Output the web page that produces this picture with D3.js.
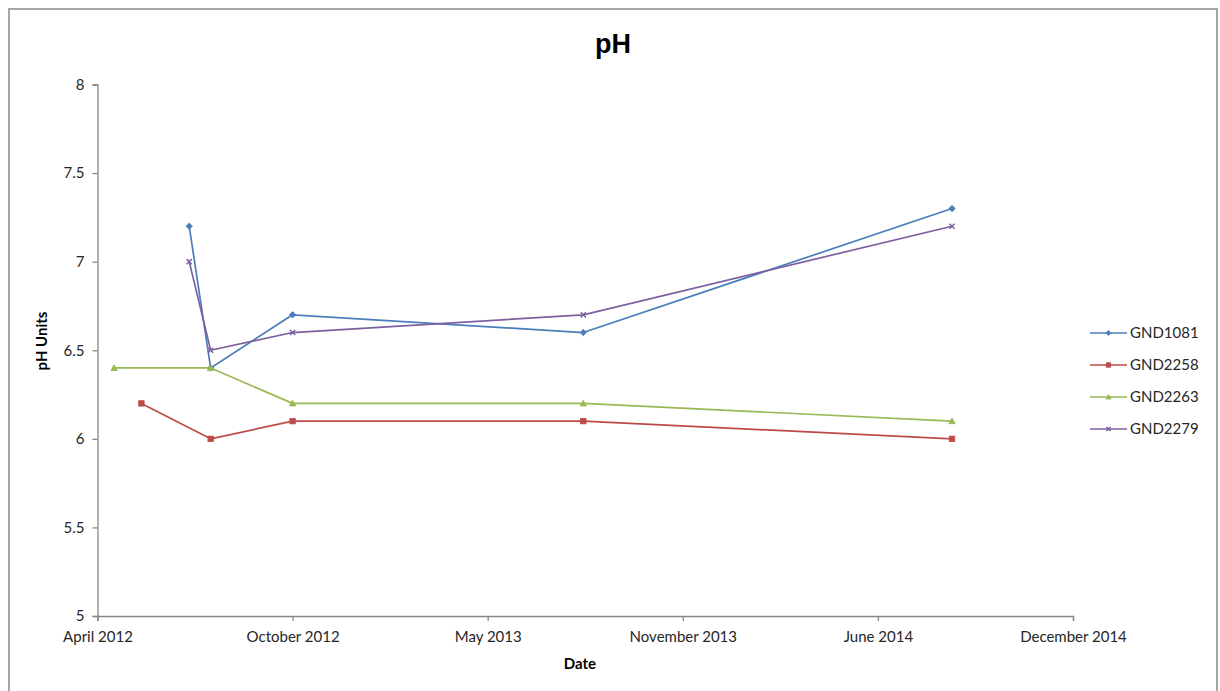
<!DOCTYPE html>
<html>
<head>
<meta charset="utf-8">
<script src="https://cdn.jsdelivr.net/npm/d3@7"></script>
<style>
  html, body { margin: 0; padding: 0; background: #fff; }
  svg { display: block; }
</style>
</head>
<body>
<svg id="chart" width="1220" height="691"></svg>
<script>
// Sample dates (ISO) and pH readings for each monitoring bore
const seriesNames = ["GND1081", "GND2258", "GND2263", "GND2279"];
const dates1081 = ["2012-07-04", "2012-07-26", "2012-10-18", "2013-08-12", "2014-08-25"];
const ph1081    = [7.2, 6.4, 6.7, 6.6, 7.3];
const dates2258 = ["2012-05-16", "2012-07-26", "2012-10-18", "2013-08-12", "2014-08-25"];
const ph2258    = [6.2, 6.0, 6.1, 6.1, 6.0];
const dates2263 = ["2012-04-18", "2012-07-26", "2012-10-18", "2013-08-12", "2014-08-25"];
const ph2263    = [6.4, 6.4, 6.2, 6.2, 6.1];
const dates2279 = ["2012-07-04", "2012-07-26", "2012-10-18", "2013-08-12", "2014-08-25"];
const ph2279    = [7.0, 6.5, 6.6, 6.7, 7.2];

// Date axis: 200-day major unit starting 1 April 2012
const xTickDates  = ["2012-04-01", "2012-10-18", "2013-05-06", "2013-11-22", "2014-06-10", "2014-12-27"];
const xTickLabels = ["April 2012", "October 2012", "May 2013", "November 2013", "June 2014", "December 2014"];
const yTicks = [5, 5.5, 6, 6.5, 7, 7.5, 8];

const parse = d3.utcParse("%Y-%m-%d");
const colors  = ["#4A7EBB", "#BE4B48", "#98B954", "#7D60A0"];
const symbols = ["diamond", "square", "triangle", "x"];

const seriesDates  = [dates1081, dates2258, dates2263, dates2279];
const seriesValues = [ph1081, ph2258, ph2263, ph2279];
const series = seriesNames.map((name, i) => ({
  name, color: colors[i], symbol: symbols[i],
  points: seriesDates[i].map((d, j) => ({ date: parse(d), value: seriesValues[i][j] }))
}));

const svg = d3.select("#chart");
const font = "Lato, 'Open Sans', sans-serif";

// chart frame
svg.append("rect")
  .attr("x", 9).attr("y", 9).attr("width", 1208).attr("height", 700)
  .attr("fill", "#fff").attr("stroke", "#A6A6A6").attr("stroke-width", 2);

const plot = { left: 97.5, right: 1073, top: 84.5, bottom: 616 };

const x = d3.scaleUtc()
  .domain([parse(xTickDates[0]), parse(xTickDates[xTickDates.length - 1])])
  .range([plot.left, plot.right]);
const y = d3.scaleLinear().domain([5, 8]).range([plot.bottom, plot.top]);

// title
svg.append("text")
  .attr("x", 613).attr("y", 53)
  .attr("text-anchor", "middle")
  .attr("font-family", "'Liberation Sans', Arial, sans-serif")
  .attr("font-weight", "bold").attr("font-size", 27)
  .attr("fill", "#000")
  .text("pH");

// y axis
const yAxis = svg.append("g")
  .attr("transform", `translate(${plot.left},0)`)
  .call(d3.axisLeft(y).tickValues(yTicks).tickSize(5).tickPadding(8)
    .tickFormat(d => String(d)));
// x axis
const xAxis = svg.append("g")
  .attr("transform", `translate(0,${plot.bottom})`)
  .call(d3.axisBottom(x).tickValues(xTickDates.map(parse)).tickSize(5).tickPadding(8)
    .tickFormat((d, i) => xTickLabels[i]));

[yAxis, xAxis].forEach(g => {
  g.select(".domain").attr("stroke", "#868686").attr("stroke-width", 1.3);
  g.selectAll(".tick line").attr("stroke", "#868686").attr("stroke-width", 1.3);
  g.selectAll(".tick text")
    .attr("font-family", font).attr("font-size", 15).attr("fill", "#262626");
});
xAxis.selectAll(".tick text").attr("dy", "0.85em");
yAxis.selectAll(".tick text").attr("dy", "0.32em");

// axis titles
svg.append("text")
  .attr("x", 580).attr("y", 669)
  .attr("text-anchor", "middle")
  .attr("font-family", font).attr("font-weight", "bold").attr("font-size", 15)
  .attr("fill", "#000").text("Date");
svg.append("text")
  .attr("transform", "translate(47,341) rotate(-90)")
  .attr("text-anchor", "middle")
  .attr("font-family", font).attr("font-weight", "bold").attr("font-size", 15)
  .attr("fill", "#000").text("pH Units");

// marker drawing
function drawMarker(g, s, cx, cy, size) {
  const r = size;
  if (s.symbol === "diamond") {
    g.append("path")
      .attr("d", `M${cx},${cy - r}L${cx + r},${cy}L${cx},${cy + r}L${cx - r},${cy}Z`)
      .attr("fill", s.color).attr("stroke", s.color).attr("stroke-width", 0.8);
  } else if (s.symbol === "square") {
    g.append("rect")
      .attr("x", cx - r * 0.85).attr("y", cy - r * 0.85)
      .attr("width", r * 1.7).attr("height", r * 1.7)
      .attr("fill", s.color).attr("stroke", s.color).attr("stroke-width", 0.8);
  } else if (s.symbol === "triangle") {
    g.append("path")
      .attr("d", `M${cx},${cy - r}L${cx + r},${cy + r * 0.8}L${cx - r},${cy + r * 0.8}Z`)
      .attr("fill", s.color).attr("stroke", s.color).attr("stroke-width", 0.8);
  } else {
    const k = r * 0.8;
    g.append("path")
      .attr("d", `M${cx - k},${cy - k}L${cx + k},${cy + k}M${cx - k},${cy + k}L${cx + k},${cy - k}`)
      .attr("fill", "none").attr("stroke", s.color).attr("stroke-width", 1.5);
  }
}

const line = d3.line().x(d => x(d.date)).y(d => y(d.value));

// series lines and markers
series.forEach(s => {
  const g = svg.append("g");
  g.append("path")
    .datum(s.points)
    .attr("d", line)
    .attr("fill", "none")
    .attr("stroke", s.color)
    .attr("stroke-width", 1.7)
    .attr("stroke-linejoin", "round");
  s.points.forEach(p => drawMarker(g, s, x(p.date), y(p.value), 3.2));
});

// legend
const legend = svg.append("g");
series.forEach((s, i) => {
  const ly = 333 + i * 32;
  const g = legend.append("g");
  g.append("line")
    .attr("x1", 1090).attr("x2", 1127).attr("y1", ly).attr("y2", ly)
    .attr("stroke", s.color).attr("stroke-width", 1.7);
  drawMarker(g, s, 1108.5, ly, 2.6);
  g.append("text")
    .attr("x", 1130).attr("y", ly).attr("dy", "0.35em")
    .attr("font-family", font).attr("font-size", 15)
    .attr("fill", "#262626").text(s.name);
});
</script>
</body>
</html>
